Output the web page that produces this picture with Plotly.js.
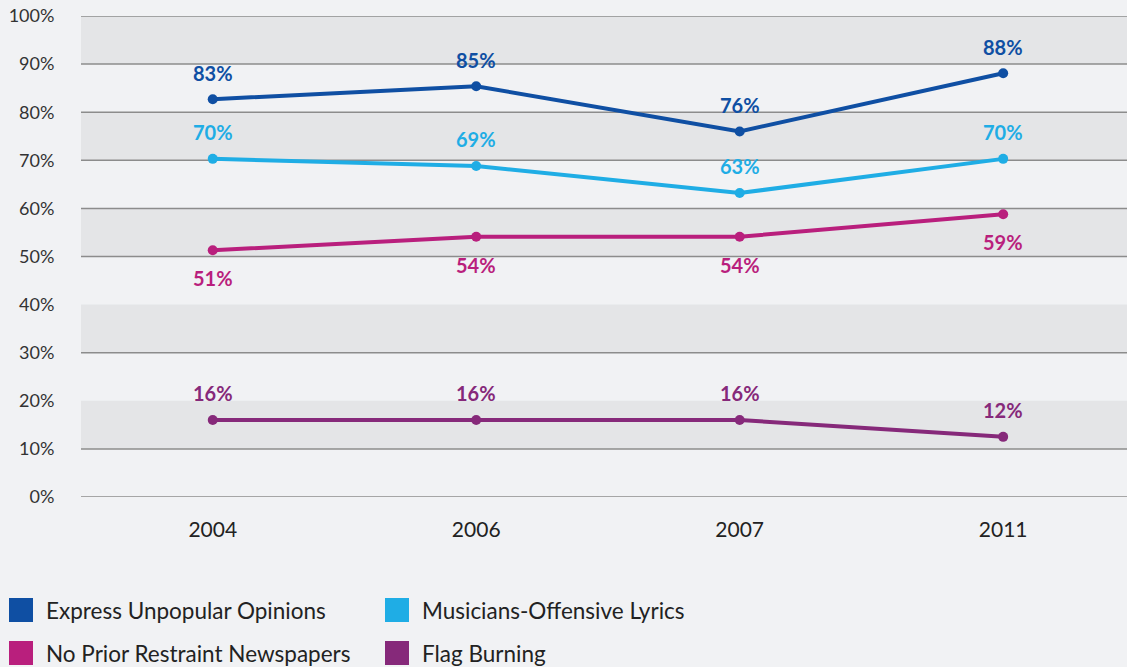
<!DOCTYPE html>
<html><head><meta charset="utf-8">
<script src="https://cdn.plot.ly/plotly-3.0.1.min.js"></script>
<style>html,body{margin:0;padding:0;background:#f1f2f4;}</style>
</head><body>
<div id="chart" style="width:1127px;height:667px;"></div>
<script>
const years = ["2004", "2006", "2007", "2011"];
const seriesNames = ["Express Unpopular Opinions", "Musicians-Offensive Lyrics", "No Prior Restraint Newspapers", "Flag Burning"];
const expressUnpopular = [82.7, 85.4, 76.0, 88.1];
const musiciansLyrics = [70.3, 68.8, 63.2, 70.3];
const noPriorRestraint = [51.3, 54.1, 54.1, 58.8];
const flagBurning = [16.0, 16.0, 16.0, 12.5];
const expressLabels = ["83%", "85%", "76%", "88%"];
const musiciansTextLabels = ["70%", "69%", "63%", "70%"];
const restraintLabels = ["51%", "54%", "54%", "59%"];
const flagLabels = ["16%", "16%", "16%", "12%"];
const yTicks = [0, 10, 20, 30, 40, 50, 60, 70, 80, 90, 100];
const gridLines = [0, 10, 30, 50, 60, 70, 80, 90, 100];
const bands = [[10, 20], [30, 40], [50, 60], [70, 80], [90, 100]];

const colors = ["#0f4fa3", "#1fade5", "#b91f7d", "#86297a"];
const allValues = [expressUnpopular, musiciansLyrics, noPriorRestraint, flagBurning];
const allLabels = [expressLabels, musiciansTextLabels, restraintLabels, flagLabels];
const labelShift = [26, 27, -28, 27];
const xIdx = years.map((_, i) => i);

const traces = allValues.map((vals, s) => ({
  type: "scatter", mode: "lines+markers", x: xIdx, y: vals,
  name: seriesNames[s], showlegend: false, hoverinfo: "skip",
  line: {color: colors[s], width: 4},
  marker: {color: colors[s], size: 10}
}));

const shapes = [];
bands.forEach(b => shapes.push({type: "rect", xref: "paper", yref: "y", x0: 0, x1: 1, y0: b[0], y1: b[1],
  fillcolor: "#e4e5e7", line: {width: 0}, layer: "below"}));
gridLines.forEach(g => shapes.push({type: "line", xref: "paper", yref: "y", x0: 0, x1: 1, y0: g, y1: g,
  line: {color: "#8c8c8c", width: 1.5}, layer: "below"}));

const annotations = [];
allValues.forEach((vals, s) => vals.forEach((v, i) => annotations.push({
  x: i, y: v, xref: "x", yref: "y", text: "<b>" + allLabels[s][i] + "</b>", showarrow: false,
  yshift: labelShift[s], font: {family: "Lato, sans-serif", size: 20, color: colors[s]}
})));

// legend (2x2), pixel positions converted to paper coords of the plot area
const M = {l: 81, r: 0, t: 16, b: 170};
const W = 1127, H = 667;
const PW = W - M.l - M.r, PH = H - M.t - M.b;
const px = x => (x - M.l) / PW;
const py = y => (H - M.b - y) / PH;
const legPos = [[9, 610], [385, 610], [9, 653], [385, 653]];
seriesNames.forEach((n, s) => {
  const [lx, ly] = legPos[s];
  shapes.push({type: "rect", xref: "paper", yref: "paper",
    x0: px(lx), x1: px(lx + 24), y0: py(ly + 12), y1: py(ly - 12),
    fillcolor: colors[s], line: {width: 0}});
  annotations.push({xref: "paper", yref: "paper", x: px(lx + 35), y: py(ly),
    xanchor: "left", yanchor: "middle", showarrow: false, text: n,
    font: {family: "Lato, sans-serif", size: 22.5, color: "#222"}});
});

const layout = {
  width: 1127, height: 667,
  paper_bgcolor: "#f1f2f4", plot_bgcolor: "#f1f2f4",
  margin: M,
  showlegend: false,
  xaxis: {range: [-0.5, 3.47], tickvals: xIdx, ticktext: years, showgrid: false, zeroline: false,
    showline: false, ticks: "outside", ticklen: 14, tickcolor: "rgba(0,0,0,0)",
    tickfont: {family: "Lato, sans-serif", size: 21, color: "#222"}},
  yaxis: {range: [0, 100], tickvals: yTicks, ticktext: yTicks.map(t => t + "%"), showgrid: false,
    zeroline: false, showline: false, ticks: "outside", ticklen: 22, tickcolor: "rgba(0,0,0,0)",
    tickfont: {family: "Lato, sans-serif", size: 18, color: "#333"}},
  shapes: shapes, annotations: annotations
};
Plotly.newPlot("chart", traces, layout, {displayModeBar: false});
</script>
</body></html>
